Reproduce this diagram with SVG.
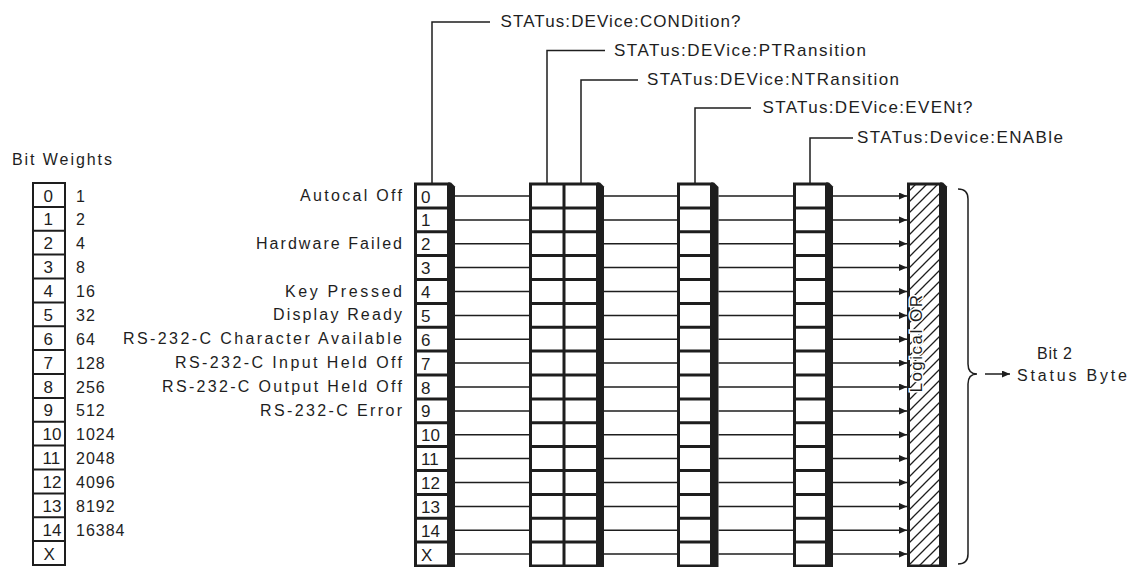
<svg xmlns="http://www.w3.org/2000/svg" width="1132" height="567" viewBox="0 0 1132 567">
<style>
text{font-family:"Liberation Sans",Arial,sans-serif;fill:#1e1e1e}
.lbl{font-size:16px}
.top{font-size:17px}
.dig{font-size:17px}
.wt{font-size:16px;letter-spacing:1px}
.reg{fill:#fff;stroke:#1e1e1e;stroke-width:3}
.sep{stroke:#1e1e1e;stroke-width:3}
.sep2{stroke:#1e1e1e;stroke-width:2}
.sh{fill:#1e1e1e}
.ln{stroke:#1e1e1e;stroke-width:1.5;fill:none}
</style>
<defs>
<marker id="ah" markerUnits="userSpaceOnUse" markerWidth="9" markerHeight="8" refX="8" refY="3.5" orient="auto">
<path d="M0,0 L8,3.5 L0,7 z" fill="#1e1e1e"/>
</marker>
<pattern id="hatch" patternUnits="userSpaceOnUse" width="11" height="11">
<path d="M-2,13 L13,-2 M-2,2 L2,-2 M9,13 L13,9" stroke="#1e1e1e" stroke-width="1.3"/>
</pattern>
</defs>
<rect width="1132" height="567" fill="#fff"/>

<g id="bit-weights">
<text x="12" y="165" class="lbl" textLength="100" lengthAdjust="spacing">Bit Weights</text>
<rect x="33" y="183" width="32" height="382" fill="#fff" stroke="#1e1e1e" stroke-width="2"/>
<path class="sep2" d="M33,206.9H65M33,230.75H65M33,254.6H65M33,278.5H65M33,302.4H65M33,326.25H65M33,350.1H65M33,374H65M33,397.9H65M33,421.75H65M33,445.6H65M33,469.5H65M33,493.4H65M33,517.25H65M33,541.1H65"/>
<g class="dig">
<text x="43.5" y="201.5">0</text><text x="43.5" y="225.4">1</text><text x="43.5" y="249.25">2</text><text x="43.5" y="273.1">3</text>
<text x="43.5" y="297">4</text><text x="43.5" y="320.9">5</text><text x="43.5" y="344.75">6</text><text x="43.5" y="368.6">7</text>
<text x="43.5" y="392.5">8</text><text x="43.5" y="416.4">9</text><text x="42.5" y="440.25">10</text><text x="42.5" y="464.1">11</text>
<text x="42.5" y="488">12</text><text x="42.5" y="511.9">13</text><text x="42.5" y="535.75">14</text><text x="43.5" y="559.6">X</text>
</g>
<g class="wt">
<text x="76" y="201.5">1</text><text x="76" y="225.4">2</text><text x="76" y="249.25">4</text><text x="76" y="273.1">8</text>
<text x="76" y="297">16</text><text x="76" y="320.9">32</text><text x="76" y="344.75">64</text><text x="76" y="368.6">128</text>
<text x="76" y="392.5">256</text><text x="76" y="416.4">512</text><text x="76" y="440.25">1024</text><text x="76" y="464.1">2048</text>
<text x="76" y="488">4096</text><text x="76" y="511.9">8192</text><text x="76" y="535.75">16384</text>
</g>
</g>

<g id="condition-labels" class="lbl">
<text x="402" y="201" text-anchor="end" textLength="102" lengthAdjust="spacing">Autocal Off</text>
<text x="402" y="248.75" text-anchor="end" textLength="146" lengthAdjust="spacing">Hardware Failed</text>
<text x="402" y="296.5" text-anchor="end" textLength="117" lengthAdjust="spacing">Key Pressed</text>
<text x="402" y="320.4" text-anchor="end" textLength="129" lengthAdjust="spacing">Display Ready</text>
<text x="402" y="344.25" text-anchor="end" textLength="279" lengthAdjust="spacing">RS-232-C Character Available</text>
<text x="402" y="368.1" text-anchor="end" textLength="227" lengthAdjust="spacing">RS-232-C Input Held Off</text>
<text x="402" y="392" text-anchor="end" textLength="240" lengthAdjust="spacing">RS-232-C Output Held Off</text>
<text x="402" y="415.9" text-anchor="end" textLength="142" lengthAdjust="spacing">RS-232-C Error</text>
</g>

<g id="condition-register">
<rect class="reg" x="415.5" y="184" width="33" height="382"/>
<polygon class="sh" points="448,182.5 451,182.5 455,186.5 455,567.5 448,567.5"/>
<path class="sep" d="M415.5,207.9H448M415.5,231.75H448M415.5,255.6H448M415.5,279.5H448M415.5,303.4H448M415.5,327.25H448M415.5,351.1H448M415.5,375H448M415.5,398.9H448M415.5,422.75H448M415.5,446.6H448M415.5,470.5H448M415.5,494.4H448M415.5,518.25H448M415.5,542.1H448"/>
<g class="dig">
<text x="421" y="202.5">0</text><text x="421" y="226.4">1</text><text x="421" y="250.25">2</text><text x="421" y="274.1">3</text>
<text x="421" y="298">4</text><text x="421" y="321.9">5</text><text x="421" y="345.75">6</text><text x="421" y="369.6">7</text>
<text x="421" y="393.5">8</text><text x="421" y="417.4">9</text><text x="421" y="441.25">10</text><text x="421" y="465.1">11</text>
<text x="421" y="489">12</text><text x="421" y="512.9">13</text><text x="421" y="536.75">14</text><text x="421" y="560.6">X</text>
</g>
</g>

<g id="transition-registers">
<rect class="reg" x="530.5" y="184" width="67" height="382"/>
<line class="sep" x1="564" y1="184" x2="564" y2="566"/>
<polygon class="sh" points="597,182.5 600,182.5 604,186.5 604,567.5 597,567.5"/>
<path class="sep" d="M530.5,207.9H597M530.5,231.75H597M530.5,255.6H597M530.5,279.5H597M530.5,303.4H597M530.5,327.25H597M530.5,351.1H597M530.5,375H597M530.5,398.9H597M530.5,422.75H597M530.5,446.6H597M530.5,470.5H597M530.5,494.4H597M530.5,518.25H597M530.5,542.1H597"/>
</g>

<g id="event-register">
<rect class="reg" x="678.5" y="184" width="33" height="382"/>
<polygon class="sh" points="711,182.5 714,182.5 718.5,187 718.5,567.5 711,567.5"/>
<path class="sep" d="M678.5,207.9H711M678.5,231.75H711M678.5,255.6H711M678.5,279.5H711M678.5,303.4H711M678.5,327.25H711M678.5,351.1H711M678.5,375H711M678.5,398.9H711M678.5,422.75H711M678.5,446.6H711M678.5,470.5H711M678.5,494.4H711M678.5,518.25H711M678.5,542.1H711"/>
</g>

<g id="enable-register">
<rect class="reg" x="794.5" y="184" width="32" height="382"/>
<polygon class="sh" points="826,182.5 829,182.5 833,186.5 833,567.5 826,567.5"/>
<path class="sep" d="M794.5,207.9H826M794.5,231.75H826M794.5,255.6H826M794.5,279.5H826M794.5,303.4H826M794.5,327.25H826M794.5,351.1H826M794.5,375H826M794.5,398.9H826M794.5,422.75H826M794.5,446.6H826M794.5,470.5H826M794.5,494.4H826M794.5,518.25H826M794.5,542.1H826"/>
</g>

<g id="logical-or">
<rect x="908.5" y="184" width="32" height="382" fill="url(#hatch)" stroke="#1e1e1e" stroke-width="3"/>
<polygon class="sh" points="940,182.5 943,182.5 947,186.5 947,567.5 940,567.5"/>
<text transform="translate(922,343) rotate(-90)" text-anchor="middle" font-size="17" letter-spacing="1.5" stroke="#fff" stroke-width="3" paint-order="stroke">Logical OR</text>
</g>

<g id="status-byte">
<path class="ln" d="M958,189 Q968,189 968,199 L968,364 Q968,374 977,374 Q968,374 968,384 L968,554 Q968,564 958,564"/>
<line class="ln" x1="985" y1="374" x2="1010" y2="374" marker-end="url(#ah)"/>
<text class="lbl" x="1037" y="359" textLength="35" lengthAdjust="spacing">Bit 2</text>
<text class="lbl" x="1017" y="381" textLength="110" lengthAdjust="spacing">Status Byte</text>
</g>

<g id="query-labels" class="top">
<text x="500.5" y="27" textLength="240" lengthAdjust="spacing">STATus:DEVice:CONDition?</text>
<text x="614" y="55.5" textLength="252" lengthAdjust="spacing">STATus:DEVice:PTRansition</text>
<text x="647" y="84.5" textLength="252" lengthAdjust="spacing">STATus:DEVice:NTRansition</text>
<text x="762.5" y="113" textLength="210" lengthAdjust="spacing">STATus:DEVice:EVENt?</text>
<text x="857" y="143" textLength="206" lengthAdjust="spacing">STATus:Device:ENABle</text>
</g>

<g id="connectors" class="ln">
<path d="M432,183 V22 H490"/>
<path d="M547,183 V50.5 H605"/>
<path d="M581,183 V80 H638"/>
<path d="M695,183 V108 H751"/>
<path d="M810,183 V138 H853"/>
<path d="M455,196H530M455,219.9H530M455,243.75H530M455,267.6H530M455,291.5H530M455,315.4H530M455,339.25H530M455,363.1H530M455,387H530M455,410.9H530M455,434.75H530M455,458.6H530M455,482.5H530M455,506.4H530M455,530.25H530M455,554.1H530"/>
<path d="M604,196H678M604,219.9H678M604,243.75H678M604,267.6H678M604,291.5H678M604,315.4H678M604,339.25H678M604,363.1H678M604,387H678M604,410.9H678M604,434.75H678M604,458.6H678M604,482.5H678M604,506.4H678M604,530.25H678M604,554.1H678"/>
<path d="M718.5,196H794M718.5,219.9H794M718.5,243.75H794M718.5,267.6H794M718.5,291.5H794M718.5,315.4H794M718.5,339.25H794M718.5,363.1H794M718.5,387H794M718.5,410.9H794M718.5,434.75H794M718.5,458.6H794M718.5,482.5H794M718.5,506.4H794M718.5,530.25H794M718.5,554.1H794"/>
<g marker-end="url(#ah)">
<line x1="833" y1="196" x2="907" y2="196"/><line x1="833" y1="219.9" x2="907" y2="219.9"/>
<line x1="833" y1="243.75" x2="907" y2="243.75"/><line x1="833" y1="267.6" x2="907" y2="267.6"/>
<line x1="833" y1="291.5" x2="907" y2="291.5"/><line x1="833" y1="315.4" x2="907" y2="315.4"/>
<line x1="833" y1="339.25" x2="907" y2="339.25"/><line x1="833" y1="363.1" x2="907" y2="363.1"/>
<line x1="833" y1="387" x2="907" y2="387"/><line x1="833" y1="410.9" x2="907" y2="410.9"/>
<line x1="833" y1="434.75" x2="907" y2="434.75"/><line x1="833" y1="458.6" x2="907" y2="458.6"/>
<line x1="833" y1="482.5" x2="907" y2="482.5"/><line x1="833" y1="506.4" x2="907" y2="506.4"/>
<line x1="833" y1="530.25" x2="907" y2="530.25"/><line x1="833" y1="554.1" x2="907" y2="554.1"/>
</g>
</g>
</svg>
